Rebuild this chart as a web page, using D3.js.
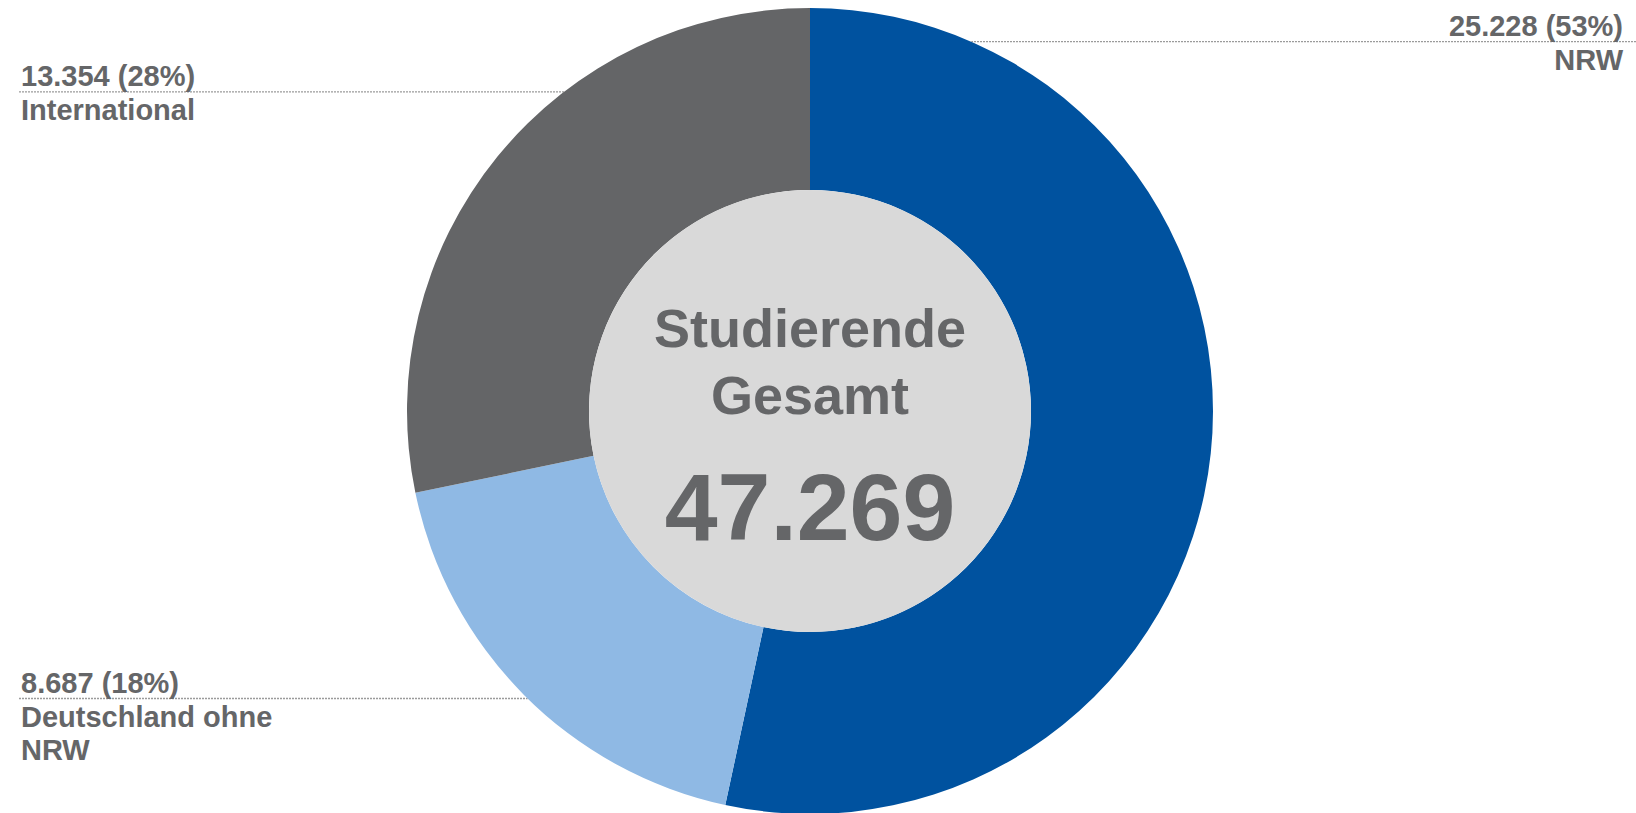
<!DOCTYPE html>
<html>
<head>
<meta charset="utf-8">
<script src="https://cdn.jsdelivr.net/npm/d3@7"></script>
<style>
  html, body { margin: 0; padding: 0; background: #ffffff; }
  svg { display: block; }
</style>
</head>
<body>
<svg id="chart" width="1636" height="813"></svg>
<script>
// ---- data ----
const categories = ["NRW", "Deutschland ohne NRW", "International"];
const labelLines = [["NRW"], ["Deutschland ohne", "NRW"], ["International"]];
const values = [25228, 8687, 13354];
const colors = ["#00529f", "#8fb9e4", "#646567"];
const centerTitle = ["Studierende", "Gesamt"];

// ---- layout ----
const W = 1636, H = 813;
const cx = 810, cy = 411;
const outerR = 403, innerR = 221;
const textColor = "#656668";
const lineColor = "#9b9b9b";

const de = d3.formatLocale({ decimal: ",", thousands: ".", grouping: [3], currency: ["", "€"] });
const fmt = de.format(",d");
const total = d3.sum(values);

const svg = d3.select("#chart");
const data = categories.map((c, i) => ({ cat: c, lines: labelLines[i], value: values[i], color: colors[i] }));

const pie = d3.pie().sort(null).value(d => d.value).startAngle(0).endAngle(2 * Math.PI);
const arcs = pie(data);
const arc = d3.arc().innerRadius(innerR).outerRadius(outerR);

// label placement spec (side and line y)
const labelSpec = {
  "NRW": { side: "right", y: 41.7 },
  "International": { side: "left", y: 91.8 },
  "Deutschland ohne NRW": { side: "left", y: 698.5 }
};

// leader lines (drawn below pie)
const gLines = svg.append("g");
arcs.forEach(a => {
  const s = labelSpec[a.data.cat];
  const dy = Math.abs(cy - s.y);
  const dx = Math.sqrt(Math.max(0, outerR * outerR - dy * dy));
  const xEdge = s.side === "right" ? cx + dx : cx - dx;
  const x0 = s.side === "right" ? W : 19;
  gLines.append("line")
    .attr("x1", x0).attr("x2", xEdge)
    .attr("y1", s.y).attr("y2", s.y)
    .attr("stroke", lineColor).attr("stroke-width", 1.3)
    .attr("stroke-dasharray", "2,1");
});

// donut
const g = svg.append("g").attr("transform", `translate(${cx},${cy})`);
g.selectAll("path.slice").data(arcs).join("path")
  .attr("class", "slice")
  .attr("d", arc)
  .attr("fill", d => d.data.color);

// center disc
g.append("circle").attr("r", innerR).attr("fill", "#d9d9d9");

// center text
g.append("text")
  .attr("text-anchor", "middle")
  .attr("font-family", "Liberation Sans, Arial, sans-serif")
  .attr("font-weight", "bold")
  .attr("font-size", 54)
  .attr("fill", textColor)
  .selectAll("tspan").data(centerTitle).join("tspan")
  .attr("x", 0)
  .attr("y", (d, i) => -64 + i * 67)
  .text(d => d);

g.append("text")
  .attr("text-anchor", "middle")
  .attr("font-family", "Liberation Sans, Arial, sans-serif")
  .attr("font-weight", "bold")
  .attr("font-size", 95)
  .attr("fill", textColor)
  .attr("x", 0).attr("y", 129)
  .text(fmt(total));

// labels
arcs.forEach(a => {
  const s = labelSpec[a.data.cat];
  const x = s.side === "right" ? 1623 : 21;
  const anchor = s.side === "right" ? "end" : "start";
  const pct = Math.round(a.data.value / total * 100);
  const t = svg.append("text")
    .attr("text-anchor", anchor)
    .attr("font-family", "Liberation Sans, Arial, sans-serif")
    .attr("font-weight", "bold")
    .attr("font-size", 29)
    .attr("fill", textColor);
  t.append("tspan").attr("x", x).attr("y", s.y - 6).text(`${fmt(a.data.value)} (${pct}%)`);
  a.data.lines.forEach((ln, i) => {
    t.append("tspan").attr("x", x).attr("y", s.y + 28 + i * 33).text(ln);
  });
});
</script>
</body>
</html>
